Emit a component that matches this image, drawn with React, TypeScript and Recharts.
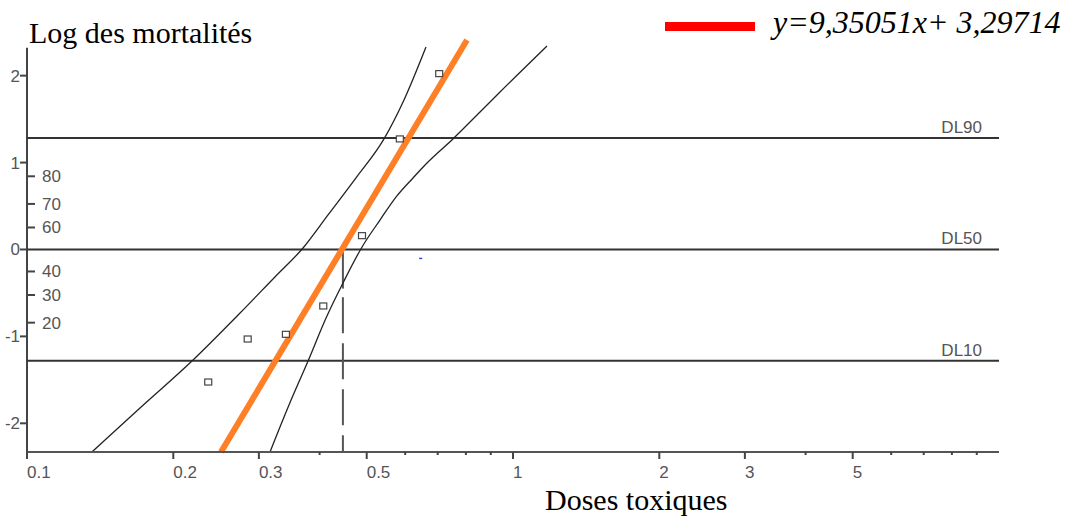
import React from 'react';
import { ComposedChart, Line, Scatter, XAxis, YAxis, ReferenceLine, Legend } from 'recharts';

// ---- data ----
const xMajorTicks = [0.1, 0.2, 0.3, 0.5, 1, 2, 3, 5];
const xMinorTicks = [0.4, 0.6, 0.7, 0.8, 0.9, 4, 6, 7, 8, 9];
const yMajorTicks = [-2, -1, 0, 1, 2];
const pctLabels = ['20', '30', '40', '60', '70', '80'];
const pctProbits = [-0.842, -0.524, -0.253, 0.253, 0.524, 0.842];

const obsDoses = [0.236, 0.2845, 0.341, 0.407, 0.489, 0.585, 0.705];
const obsProbits = [-1.525, -1.03, -0.976, -0.65, 0.159, 1.272, 2.023];

const strayDoses = [0.6457];
const strayProbits = [-0.1];

const fitDoses = [0.2507, 0.804];
const fitProbits = [-2.33, 2.41];

const leftBandDoses = [0.136, 0.1708, 0.2185, 0.2744, 0.3237, 0.3698, 0.4163, 0.4753, 0.5427, 0.5966, 0.6622];
const leftBandProbits = [-2.33, -1.824, -1.283, -0.731, -0.316, 0.017, 0.397, 0.823, 1.272, 1.72, 2.33];

const rightBandDoses = [0.3162, 0.346, 0.3787, 0.4124, 0.449, 0.4891, 0.5325, 0.577, 0.6227, 0.6653, 0.7523, 0.8553, 0.9403, 1.1749];
const rightBandProbits = [-2.33, -1.789, -1.283, -0.788, -0.362, 0.029, 0.339, 0.616, 0.823, 0.995, 1.272, 1.582, 1.812, 2.342];

const dlNames = ['DL90', 'DL50', 'DL10'];
const dlProbits = [1.2816, 0, -1.2816];

const ld50Dose = 0.4467;
const ld50SolidEnd = -0.45;
const ld50DashStart = -0.55;

const xDomain = [0.1, 10];
const yDomain = [-2.33, 2.41];
const yAxisTop = 2.32;

const yTitle = 'Log des mortalités';
const xTitle = 'Doses toxiques';
const equationLabel = 'y=9,35051x+ 3,29714';

// ---- tables built from the arrays ----
const zip = (xs: number[], ys: number[]) => xs.map((x, i) => ({ x, y: ys[i] }));
const obsData = zip(obsDoses, obsProbits);
const strayData = zip(strayDoses, strayProbits);
const fitData = zip(fitDoses, fitProbits);
const leftBand = zip(leftBandDoses, leftBandProbits);
const rightBand = zip(rightBandDoses, rightBandProbits);

const SANS = '"Liberation Sans", Arial, Helvetica, sans-serif';
const SERIF = '"Liberation Serif", "Times New Roman", serif';
const TICK_COLOR = '#555';
const FS = 17;

const XTick = (props: any) => {
  const { x, y, payload } = props;
  const major = xMajorTicks.includes(payload.value);
  return (
    <g>
      <line x1={x} x2={x} y1={y} y2={y + (major ? 7 : 3)} stroke="#444" strokeWidth={2} />
      {major && (
        <text x={x} y={y + 26} textAnchor="start" fontSize={FS} fill={TICK_COLOR} fontFamily={SANS}>
          {String(payload.value)}
        </text>
      )}
    </g>
  );
};

const YTick = (props: any) => {
  const { x, y, payload } = props;
  const v = payload.value;
  const pi = pctProbits.indexOf(v);
  if (pi >= 0) {
    return (
      <g>
        <line x1={x + 1} x2={x + 8} y1={y} y2={y} stroke="#444" strokeWidth={2} />
        <text x={x + 15} y={y + 6} textAnchor="start" fontSize={FS} fill={TICK_COLOR} fontFamily={SANS}>
          {pctLabels[pi]}
        </text>
      </g>
    );
  }
  return (
    <g>
      <line x1={x - 7} x2={x} y1={y} y2={y} stroke="#444" strokeWidth={2} />
      <text x={x - 7} y={y + 6} textAnchor="end" fontSize={FS} fill={TICK_COLOR} fontFamily={SANS}>
        {String(v)}
      </text>
    </g>
  );
};

const XTitle = (props: any) => {
  const vb = props.viewBox || { x: 27, y: 452 };
  return (
    <text x={vb.x + 518} y={vb.y + 58} fontSize={30} fontFamily={SERIF} fill="#000">
      {xTitle}
    </text>
  );
};

const YTitle = (props: any) => {
  const vb = props.viewBox || { x: 0, y: 40 };
  return (
    <text x={vb.x + 29} y={vb.y + 3} fontSize={30} fontFamily={SERIF} fill="#000">
      {yTitle}
    </text>
  );
};

const dlLabel = (name: string) => (props: any) => {
  const vb = props.viewBox;
  return (
    <text x={vb.x + vb.width - 17} y={vb.y - 5} textAnchor="end" fontSize={FS} fill={TICK_COLOR} fontFamily={SANS}>
      {name}
    </text>
  );
};

const Square = (props: any) => (
  <rect x={props.cx - 3.5} y={props.cy - 3} width={7} height={6} fill="#fff" stroke="#444" strokeWidth={1.2} />
);

const StrayMark = (props: any) => (
  <rect x={props.cx - 1.5} y={props.cy - 0.5} width={3} height={1.5} fill="#3344ff" />
);

const LegendContent = () => (
  <svg width={1066} height={50} style={{ display: 'block' }}>
    <rect x={665} y={22} width={90} height={9} fill="#ff0000" />
    <text x={773} y={33} fontSize={32} fontStyle="italic" fontFamily={SERIF} fill="#000">
      {equationLabel}
    </text>
  </svg>
);

export default function App() {
  return (
    <div style={{ position: 'absolute', left: 0, top: 0, width: 1066, height: 518, background: '#fff' }}>
      <ComposedChart width={1066} height={518} margin={{ top: 40, right: 67, bottom: 0, left: 0 }}>
        <XAxis
          dataKey="x"
          type="number"
          scale="log"
          domain={xDomain}
          allowDataOverflow
          ticks={[...xMajorTicks, ...xMinorTicks]}
          interval={0}
          tick={<XTick />}
          tickLine={false}
          tickSize={0}
          tickMargin={0}
          height={66}
          axisLine={{ stroke: '#555', strokeWidth: 2 }}
          label={<XTitle />}
        />
        <YAxis
          dataKey="y"
          type="number"
          domain={yDomain}
          ticks={[...yMajorTicks, ...pctProbits]}
          interval={0}
          tick={<YTick />}
          tickLine={false}
          tickSize={0}
          tickMargin={0}
          width={27}
          axisLine={false}
          label={<YTitle />}
        />
        <Legend
          layout="horizontal"
          verticalAlign="middle"
          align="center"
          wrapperStyle={{ position: 'absolute', top: 0, left: 0, width: 1066, height: 50, margin: 0 }}
          content={<LegendContent />}
        />
        <ReferenceLine
          segment={[{ x: xDomain[0], y: yDomain[0] }, { x: xDomain[0], y: yAxisTop }]}
          stroke="#444"
          strokeWidth={2}
        />
        {dlProbits.map((p, i) => (
          <ReferenceLine key={dlNames[i]} y={p} stroke="#333" strokeWidth={2} label={dlLabel(dlNames[i])} />
        ))}
        <ReferenceLine
          segment={[{ x: ld50Dose, y: 0 }, { x: ld50Dose, y: ld50SolidEnd }]}
          stroke="#555"
          strokeWidth={2}
        />
        <ReferenceLine
          segment={[{ x: ld50Dose, y: ld50DashStart }, { x: ld50Dose, y: yDomain[0] }]}
          stroke="#555"
          strokeWidth={2}
          strokeDasharray="36 10"
        />
        <Line data={leftBand} dataKey="y" type="monotone" stroke="#222" strokeWidth={1.3} dot={false} isAnimationActive={false} />
        <Line data={rightBand} dataKey="y" type="monotone" stroke="#222" strokeWidth={1.3} dot={false} isAnimationActive={false} />
        <Line data={fitData} dataKey="y" type="linear" stroke="#ff7f27" strokeWidth={6} dot={false} isAnimationActive={false} />
        <Scatter data={obsData} dataKey="y" shape={<Square />} isAnimationActive={false} />
        <Scatter data={strayData} dataKey="y" shape={<StrayMark />} isAnimationActive={false} />
      </ComposedChart>
    </div>
  );
}
